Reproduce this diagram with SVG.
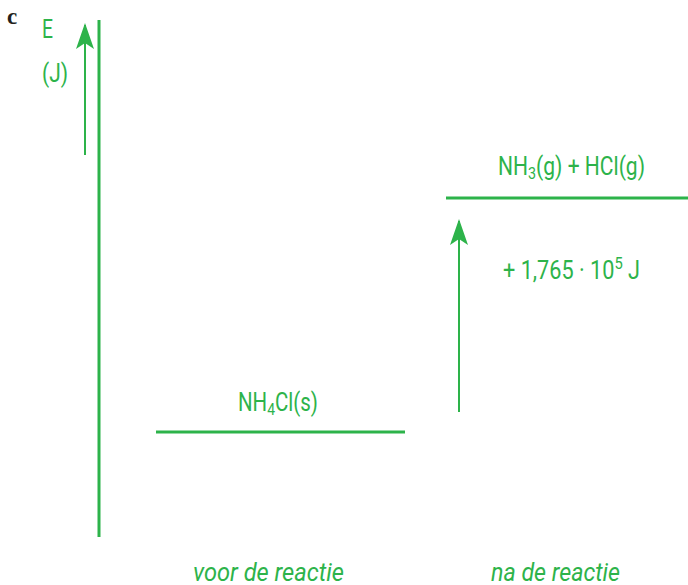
<svg xmlns="http://www.w3.org/2000/svg" width="688" height="585" viewBox="0 0 688 585">
  <style>
    .ln { stroke: #2db34a; fill: none; }
    .lbl { font-family: Roboto, "Liberation Sans", sans-serif; font-size: 25px; fill: #2db34a; }
    .it { font-style: italic; }
  </style>
  <defs>
    <!-- notched arrowhead, tip at the line end -->
    <marker id="head" viewBox="0 0 26 20" refX="24" refY="10" markerWidth="26" markerHeight="20" markerUnits="userSpaceOnUse" orient="auto">
      <path d="M26 10 L0 1 L6 10 L0 19 Z" fill="#2db34a"/>
    </marker>
  </defs>
  <rect width="688" height="585" fill="#ffffff"/>

  <text x="7" y="24" font-family="'Liberation Serif', serif" font-weight="bold" font-size="23" fill="#231f20">c</text>

  <!-- energy axis -->
  <g id="axis">
    <line class="ln" x1="99" y1="20" x2="99" y2="537" stroke-width="3"/>
    <line class="ln" x1="85" y1="155" x2="85" y2="25" stroke-width="2" marker-end="url(#head)"/>
    <text class="lbl" x="42" y="38" textLength="11" lengthAdjust="spacingAndGlyphs">E</text>
    <text class="lbl" x="42" y="82" textLength="26" lengthAdjust="spacingAndGlyphs">(J)</text>
  </g>

  <!-- energy levels -->
  <g id="level-products">
    <line class="ln" x1="446" y1="198" x2="688" y2="198" stroke-width="3"/>
    <text class="lbl" x="498" y="175" textLength="147" lengthAdjust="spacingAndGlyphs">NH<tspan font-size="17" dy="4">3</tspan><tspan dy="-4">(g) + HCl(g)</tspan></text>
  </g>
  <g id="level-reactant">
    <line class="ln" x1="156" y1="432" x2="405" y2="432" stroke-width="3"/>
    <text class="lbl" x="238" y="411" textLength="80" lengthAdjust="spacingAndGlyphs">NH<tspan font-size="17" dy="4">4</tspan><tspan dy="-4">Cl(s)</tspan></text>
  </g>

  <g id="connectors">
    <line class="ln" x1="459" y1="412" x2="459" y2="221" stroke-width="2" marker-end="url(#head)"/>
  </g>
  <g id="delta-label">
    <text class="lbl" x="503" y="279" textLength="137" lengthAdjust="spacingAndGlyphs">+ 1,765 · 10<tspan font-size="17" dy="-10">5</tspan><tspan dy="10"> J</tspan></text>
  </g>

  <g id="axis-labels">
    <text class="lbl it" x="193" y="581" textLength="151" lengthAdjust="spacingAndGlyphs">voor de reactie</text>
    <text class="lbl it" x="491" y="581" textLength="129" lengthAdjust="spacingAndGlyphs">na de reactie</text>
  </g>
</svg>
